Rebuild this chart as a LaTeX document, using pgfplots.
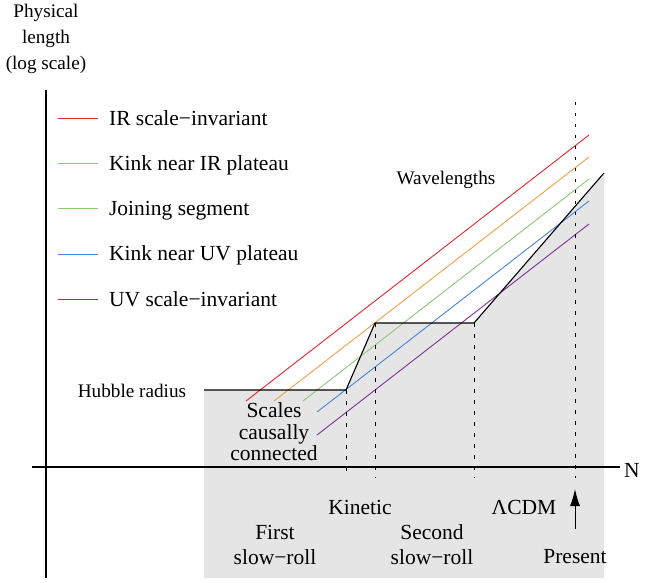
\documentclass[border=0pt]{standalone}
\usepackage{fontspec}
\setmainfont{Liberation Serif}
\usepackage{pgfplots}
\pgfplotsset{compat=1.18}
\usetikzlibrary{arrows.meta}

\definecolor{cIR}{RGB}{228,38,44}
\definecolor{cKIR}{RGB}{240,160,72}
\definecolor{cJoin}{RGB}{140,200,120}
\definecolor{cKUV}{RGB}{72,132,222}
\definecolor{cUV}{RGB}{128,48,150}
\definecolor{shade}{RGB}{229,229,229}

\newcommand{\bigfont}{\fontsize{21.5}{25}\selectfont}
\newcommand{\smallfont}{\fontsize{19.2}{26}\selectfont}

\begin{document}
\begin{tikzpicture}
\begin{axis}[
    name=ax,
    scale only axis,
    width=645pt, height=582pt,
    xmin=0, xmax=645, ymin=0, ymax=582,
    hide axis,
    legend style={at={(axis cs:57,474)}, anchor=north west,
        draw=none, fill=none, font=\bigfont, row sep=25pt,
        column sep=9pt, inner sep=0pt},
    legend cell align=left,
    legend image code/.code={\draw[#1] (0pt,0pt) -- (40pt,0pt);},
]
% shaded region below the Hubble radius
\addplot[fill=shade, draw=none, forget plot] coordinates {
    (204,4) (204,192) (346,192) (375,259) (474,259) (604,409) (604,4)} -- cycle;

% wavelengths
\addplot[cIR, line width=0.9pt] coordinates {(246,181) (589,447)};
\addlegendentry{IR scale−invariant}
\addplot[cKIR, line width=0.9pt] coordinates {(274,181) (589,425)};
\addlegendentry{Kink near IR plateau}
\addplot[cJoin, line width=0.9pt] coordinates {(303,181) (589,403)};
\addlegendentry{Joining segment}
\addplot[cKUV, line width=0.9pt] coordinates {(317,170) (589,381)};
\addlegendentry{Kink near UV plateau}
\addplot[cUV, line width=0.9pt] coordinates {(317,147) (589,358)};
\addlegendentry{UV scale−invariant}

% Hubble radius
\addplot[black, line width=1.1pt, forget plot] coordinates {
    (204,192) (346,192) (375,259) (474,259) (604,409)};

% axes
\addplot[black, line width=1.1pt, forget plot] coordinates {(46,4) (46,492)};
\addplot[black, line width=1.1pt, forget plot] coordinates {(32,115) (620,115)};

% epoch boundaries
\addplot[black, line width=1pt, dash pattern=on 3.5pt off 7.5pt, forget plot]
    coordinates {(346,192) (346,104)};
\addplot[black, line width=1pt, dash pattern=on 3.5pt off 7.5pt, forget plot]
    coordinates {(375,259) (375,104)};
\addplot[black, line width=1pt, dash pattern=on 3.5pt off 7.5pt, forget plot]
    coordinates {(474,259) (474,104)};
\addplot[black, line width=1pt, dash pattern=on 3.5pt off 7.5pt, forget plot]
    coordinates {(575,480) (575,104)};

% present
\addplot[black, line width=1pt, -{Latex[length=17pt,width=10pt]}, forget plot]
    coordinates {(575,53) (575,93)};

% labels
\node[font=\smallfont, align=center] at (axis cs:46,543) {Physical\\length\\(log scale)};
\node[font=\smallfont] at (axis cs:446,402) {Wavelengths};
\node[font=\smallfont] at (axis cs:132,191) {Hubble radius};
\node[font=\bigfont, align=center] at (axis cs:274,150)
    {Scales\\[-3.5pt]causally\\[-3.5pt]connected};
\node[font=\bigfont] at (axis cs:360,75) {Kinetic};
\node[font=\bigfont] at (axis cs:524,75) {ΛCDM};
\node[font=\bigfont, align=center] at (axis cs:275,37) {First\\slow−roll};
\node[font=\bigfont, align=center] at (axis cs:432,37) {Second\\slow−roll};
\node[font=\bigfont] at (axis cs:575,25) {Present};
\node[font=\bigfont, anchor=west, inner sep=0pt] at (axis cs:624,112) {N};
\end{axis}
\pgfresetboundingbox
\useasboundingbox (ax.south west) rectangle (ax.north east);
\end{tikzpicture}
\end{document}
